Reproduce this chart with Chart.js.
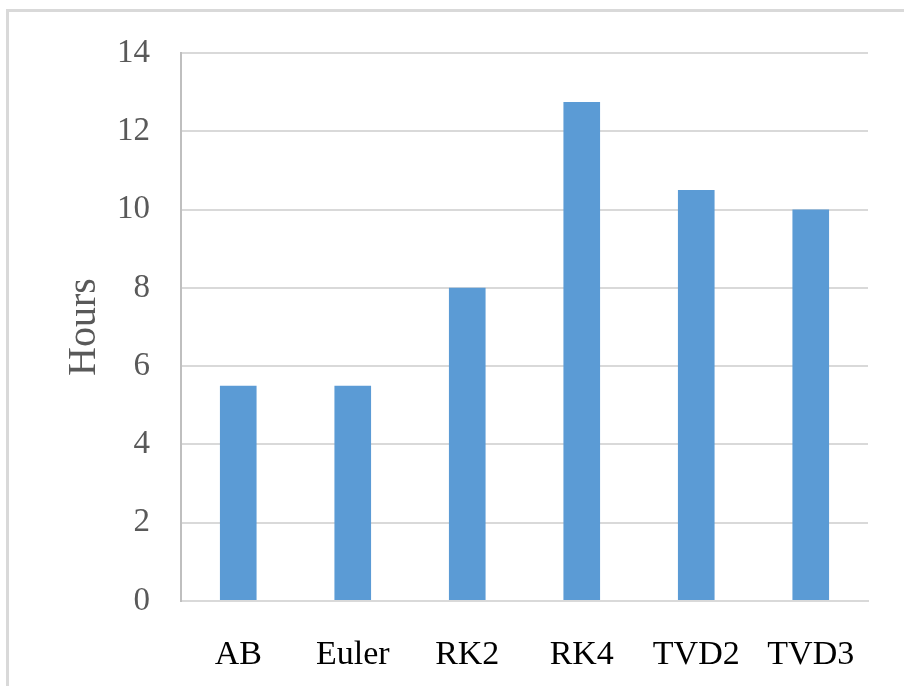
<!DOCTYPE html>
<html>
<head>
<meta charset="utf-8">
<script src="https://cdn.jsdelivr.net/npm/chart.js@4/dist/chart.umd.min.js"></script>
<style>
  html, body { margin: 0; padding: 0; background: #fff; overflow: hidden; }
  #wrap { position: relative; width: 904px; height: 686px; }
  #frame { position: absolute; left: 6px; top: 9px; width: 940px; height: 720px;
           border: 3px solid #d9d9d9; box-sizing: border-box; pointer-events: none; }
</style>
</head>
<body>
<div id="wrap">
  <canvas id="grafico" width="904" height="686"></canvas>
  <div id="frame"></div>
</div>
<script>
const metodos = ["AB", "Euler", "RK2", "RK4", "TVD2", "TVD3"];
const horas = [5.5, 5.5, 8, 12.75, 10.5, 10];
const yMin = 0, yMax = 14, yStep = 2;

const ctx = document.getElementById("grafico").getContext("2d");
new Chart(ctx, {
  type: "bar",
  data: {
    labels: metodos,
    datasets: [{
      data: horas,
      backgroundColor: "#5b9bd5",
      borderWidth: 0,
      categoryPercentage: 1,
      barPercentage: 0.32
    }]
  },
  options: {
    responsive: false,
    animation: false,
    layout: { padding: { top: 53, right: 36, bottom: 10, left: 0 } },
    plugins: { legend: { display: false }, tooltip: { enabled: false } },
    scales: {
      x: {
        afterFit: function (scale) { scale.height = 75; },
        grid: { display: false, drawTicks: false },
        border: { color: "#d9d9d9", width: 2 },
        ticks: {
          color: "#000",
          padding: 34,
          maxRotation: 0,
          font: { family: "Liberation Serif", size: 34 }
        }
      },
      y: {
        min: yMin,
        max: yMax,
        afterFit: function (scale) { scale.width = 181; },
        grid: { color: "#d9d9d9", lineWidth: 2, drawTicks: false },
        border: { color: "#bfbfbf", width: 2 },
        ticks: {
          stepSize: yStep,
          color: "#595959",
          padding: 31,
          font: { family: "Liberation Serif", size: 33 }
        },
        title: {
          display: true,
          text: "Hours",
          color: "#595959",
          padding: { top: 60, bottom: 0 },
          font: { family: "Liberation Serif", size: 40 }
        }
      }
    }
  }
});
</script>
</body>
</html>
